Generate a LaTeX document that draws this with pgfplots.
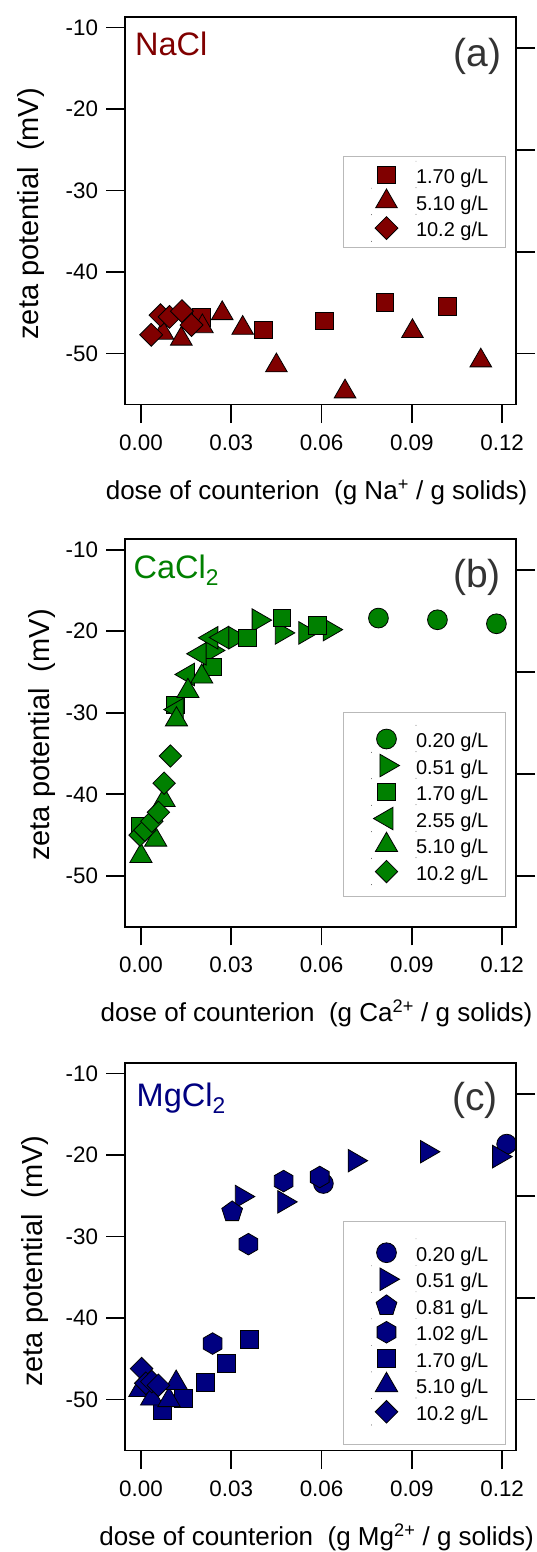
\documentclass[border=0pt]{standalone}
\usepackage{fontspec}
\setmainfont{Liberation Sans}
\usepackage{pgfplots}
\pgfplotsset{compat=1.18}
\usetikzlibrary{plotmarks}

\definecolor{nacl}{RGB}{128,0,0}
\definecolor{cacl}{RGB}{0,128,0}
\definecolor{mgcl}{RGB}{0,0,128}
\definecolor{panlab}{RGB}{51,51,51}
\definecolor{legbox}{RGB}{185,185,185}

\newcommand\ticklab{\fontsize{22.4}{26}\selectfont}
\newcommand\xlabfont{\fontsize{26}{30}\selectfont}
\newcommand\ylabfont{\fontsize{29}{33}\selectfont}
\newcommand\legfont{\fontsize{20}{24}\selectfont}
\newcommand\namefont{\fontsize{32.5}{36}\selectfont}
\newcommand\panfont{\fontsize{39}{44}\selectfont}

\pgfdeclareplotmark{hexagon*}{%
  \pgfpathmoveto{\pgfqpointpolar{90}{\pgfplotmarksize}}%
  \pgfpathlineto{\pgfqpointpolar{150}{\pgfplotmarksize}}%
  \pgfpathlineto{\pgfqpointpolar{210}{\pgfplotmarksize}}%
  \pgfpathlineto{\pgfqpointpolar{270}{\pgfplotmarksize}}%
  \pgfpathlineto{\pgfqpointpolar{330}{\pgfplotmarksize}}%
  \pgfpathlineto{\pgfqpointpolar{30}{\pgfplotmarksize}}%
  \pgfpathclose
  \pgfusepathqfillstroke}

\pgfplotsset{
  panel/.style={
    scale only axis, width=391pt, height=387.5pt,
    xmin=-0.0053, xmax=0.1246, ymin=-56.25, ymax=-8.72,
    axis line style={line width=1.8pt},
    tick style={line width=1.8pt, black},
    tick align=outside, major tick length=18.5pt,
    tick pos=left,
    xtick={0,0.03,0.06,0.09,0.12}, xticklabels={0.00,0.03,0.06,0.09,0.12},
    ytick={-50,-40,-30,-20,-10}, yticklabels={-50,-40,-30,-20,-10},
    tick label style={font=\ticklab},
    xticklabel style={yshift=-8pt},
    yticklabel style={xshift=-5pt},
    every axis x label/.style={at={(axis description cs:0.49,0)}, anchor=base, yshift=-95pt, font=\xlabfont},
    clip=false,
    legend cell align=left,
    legend style={draw=none, fill=none, inner sep=0pt, outer sep=0pt, row sep=-2pt, column sep=0pt, anchor=north west,
      nodes={inner sep=0pt, text height=21pt, text depth=6pt, font=\legfont}},
    legend image code/.code={%
      \path[draw=none,fill=none,only marks,mark=*,mark size=0.01pt,mark options={draw=none,fill=none}] plot coordinates {(-15pt,-12pt) (29.5pt,15pt)};
      \path[draw=none,fill=none] (-15pt,-12pt) rectangle (29.5pt,15pt);
      \draw[##1] plot coordinates {(0pt,1.2pt)};},
  },
  raxis/.style={
    scale only axis, width=391pt, height=387.5pt,
    xmin=-0.0053, xmax=0.1246, ymin=-56.25, ymax=-8.72,
    axis x line=none, axis y line*=right,
    ytick={-50,-37.5,-25,-12.5}, yticklabels={},
    tick align=outside, major tick length=19pt,
    tick style={line width=1.8pt, black},
    axis line style={line width=1.8pt},
  },
  mk/.style n args={3}{only marks, mark=#1, mark size=#2, mark options={draw=black, line width=0.8pt, fill=#3}},
  mkr/.style n args={4}{only marks, mark=#1, mark size=#2, mark options={draw=black, line width=0.8pt, fill=#3, rotate=#4}},
}

\begin{document}
\begin{tikzpicture}[x=1pt,y=1pt]
\useasboundingbox (0,0) rectangle (537,-1552);

% ---------------- panel (a) ----------------
\begin{axis}[panel, at={(125pt,-17pt)}, anchor=north west,
  every axis y label/.style={at={(axis description cs:-0.2404,0.492)}, rotate=90, anchor=center, font=\ylabfont},
  xlabel={dose of counterion\ \ (g Na\textsuperscript{+} / g solids)},
  ylabel={zeta potential\ \ (mV)},
  legend style={at={(0.6304,0.6279)}}]
\draw[legbox, line width=0.9pt] (rel axis cs:0.5575,0.6395) rectangle (rel axis cs:0.9719,0.4057);
\addplot[mk={square*}{8.8pt}{nacl}] coordinates {
 (0.0201,-45.6) (0.0407,-47.1) (0.0610,-46.0) (0.0811,-43.7) (0.1018,-44.25)};
\addlegendentry{1.70 g/L}
\addplot[mk={triangle*}{12.5pt}{nacl}] coordinates {
 (0.0073,-47.47) (0.0134,-48.2) (0.0204,-46.67) (0.0270,-45.07) (0.0338,-46.87)
 (0.0450,-51.47) (0.0678,-54.67) (0.0902,-47.27) (0.1129,-50.87)};
\addlegendentry{5.10 g/L}
\addplot[mkr={square*}{8.1pt}{nacl}{45}] coordinates {
 (0.0034,-47.7) (0.0065,-45.3) (0.0095,-45.5) (0.0136,-44.8) (0.0168,-46.5)};
\addlegendentry{10.2 g/L}
\node[anchor=base west, yshift=-38.5pt, xshift=10pt, font=\namefont, text=nacl, inner sep=0pt] at (rel axis cs:0,1) {NaCl};
\node[anchor=east, yshift=-39.5pt, xshift=-14.5pt, font=\panfont, text=panlab, inner sep=0pt] at (rel axis cs:1,1) {(a)};
\end{axis}
\begin{axis}[raxis, at={(125pt,-17pt)}, anchor=north west]
\addplot[draw=none, forget plot] coordinates {(0,-30)};
\end{axis}

% ---------------- panel (b) ----------------
\begin{axis}[panel, at={(125pt,-539.3pt)}, anchor=north west,
  every axis y label/.style={at={(axis description cs:-0.2123,0.495)}, rotate=90, anchor=center, font=\ylabfont},
  xlabel={dose of counterion\ \ (g Ca\textsuperscript{2+} / g solids)},
  ylabel={zeta potential\ \ (mV)},
  legend style={at={(0.6304,0.5203)}}]
\draw[legbox, line width=0.9pt] (rel axis cs:0.5575,0.5525) rectangle (rel axis cs:0.9719,0.0777);
\addplot[mk={*}{9.9pt}{cacl}] coordinates {
 (0.0789,-18.38) (0.0985,-18.59) (0.1181,-19.08)};
\addlegendentry{0.20 g/L}
\addplot[mkr={triangle*}{13pt}{cacl}{-90}] coordinates {
 (0.0236,-22.35) (0.0313,-20.8) (0.0391,-18.63) (0.0468,-20.2) (0.0546,-20.2) (0.0627,-19.8)};
\addlegendentry{0.51 g/L}
\addplot[mk={square*}{8.7pt}{cacl}] coordinates {
 (-0.0003,-43.95) (0.0115,-29.0) (0.0237,-24.35) (0.0354,-20.8) (0.0468,-18.34) (0.0586,-19.3)};
\addlegendentry{1.70 g/L}
\addplot[mkr={triangle*}{13pt}{cacl}{90}] coordinates {
 (0.0119,-29.6) (0.0156,-25.3) (0.0195,-22.76) (0.0234,-20.8) (0.0270,-20.76)};
\addlegendentry{2.55 g/L}
\addplot[mk={triangle*}{12.8pt}{cacl}] coordinates {
 (0.0,-47.57) (0.0049,-45.57) (0.0077,-40.72) (0.0118,-30.82) (0.0156,-27.34) (0.0202,-25.57)};
\addlegendentry{5.10 g/L}
\addplot[mkr={square*}{7.9pt}{cacl}{45}] coordinates {
 (-0.0003,-45.0) (0.0013,-44.4) (0.0036,-43.3) (0.0058,-42.2) (0.0077,-38.63) (0.0098,-35.3)};
\addlegendentry{10.2 g/L}
\node[anchor=base west, yshift=-39pt, xshift=8.5pt, font=\namefont, text=cacl, inner sep=0pt] at (rel axis cs:0,1) {CaCl\textsubscript{2}};
\node[anchor=east, yshift=-38.2pt, xshift=-15pt, font=\panfont, text=panlab, inner sep=0pt] at (rel axis cs:1,1) {(b)};
\end{axis}
\begin{axis}[raxis, at={(125pt,-539.3pt)}, anchor=north west]
\addplot[draw=none, forget plot] coordinates {(0,-30)};
\end{axis}

% ---------------- panel (c) ----------------
\begin{axis}[panel, at={(125pt,-1063pt)}, anchor=north west,
  every axis y label/.style={at={(axis description cs:-0.2302,0.489)}, rotate=90, anchor=center, font=\ylabfont},
  xlabel={dose of counterion\ \ (g Mg\textsuperscript{2+} / g solids)},
  ylabel={zeta potential\ \ (mV)},
  legend style={at={(0.6304,0.5461)}}]
\draw[legbox, line width=0.9pt] (rel axis cs:0.5575,0.5905) rectangle (rel axis cs:0.9719,0.0168);
\addplot[mk={*}{9.9pt}{mgcl}] coordinates {
 (0.0606,-23.5) (0.1215,-18.67)};
\addlegendentry{0.20 g/L}
\addplot[mkr={triangle*}{13pt}{mgcl}{-90}] coordinates {
 (0.0335,-25.1) (0.0476,-25.75) (0.0710,-20.7) (0.0950,-19.6) (0.1190,-20.2)};
\addlegendentry{0.51 g/L}
\addplot[mk={pentagon*}{10.9pt}{mgcl}] coordinates {
 (0.0303,-26.97)};
\addlegendentry{0.81 g/L}
\addplot[mk={hexagon*}{10.8pt}{mgcl}] coordinates {
 (0.0238,-43.13) (0.0357,-30.94) (0.0474,-23.2) (0.0594,-22.7)};
\addlegendentry{1.02 g/L}
\addplot[mk={square*}{9pt}{mgcl}] coordinates {
 (0.0070,-51.3) (0.0141,-49.85) (0.0213,-47.85) (0.0285,-45.55) (0.0360,-42.64)};
\addlegendentry{1.70 g/L}
\addplot[mk={triangle*}{13pt}{mgcl}] coordinates {
 (-0.0003,-48.82) (0.0036,-49.87) (0.0093,-50.07) (0.0117,-47.97)};
\addlegendentry{5.10 g/L}
\addplot[mkr={square*}{8pt}{mgcl}{45}] coordinates {
 (0.0002,-46.2) (0.0016,-48.0) (0.0036,-47.8) (0.0058,-48.25)};
\addlegendentry{10.2 g/L}
\node[anchor=base west, yshift=-43pt, xshift=11.5pt, font=\namefont, text=mgcl, inner sep=0pt] at (rel axis cs:0,1) {MgCl\textsubscript{2}};
\node[anchor=east, yshift=-37.5pt, xshift=-18pt, font=\panfont, text=panlab, inner sep=0pt] at (rel axis cs:1,1) {(c)};
\end{axis}
\begin{axis}[raxis, at={(125pt,-1063pt)}, anchor=north west]
\addplot[draw=none, forget plot] coordinates {(0,-30)};
\end{axis}
\end{tikzpicture}
\end{document}
